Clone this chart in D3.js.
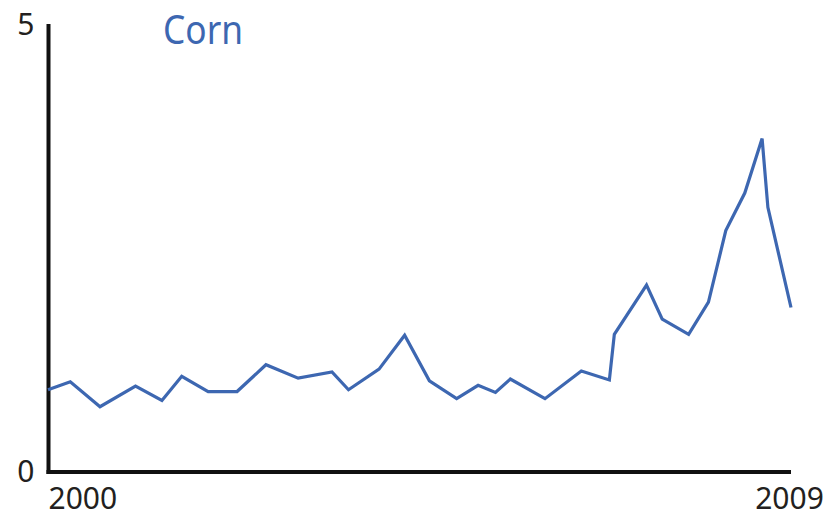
<!DOCTYPE html>
<html>
<head>
<meta charset="utf-8">
<script src="https://cdn.jsdelivr.net/npm/d3@7"></script>
<style>
	body { margin: 0; background: #fff; }
	text { font-family: "Noto Sans", sans-serif; }
</style>
</head>
<body>
<svg id="chart" width="839" height="517"></svg>
<script>

// time (fractional year) and price
var years = [2000.00, 2000.27, 2000.63, 2001.06, 2001.38, 2001.62, 2001.94, 2002.29, 2002.64, 2003.03,
	2003.44, 2003.64, 2004.01, 2004.32, 2004.62, 2004.95, 2005.21, 2005.42, 2005.60, 2006.02,
	2006.46, 2006.80, 2006.86, 2007.25, 2007.44, 2007.76, 2008.00, 2008.21, 2008.44, 2008.65,
	2008.72, 2009.00];
var prices = [0.92, 1.01, 0.73, 0.96, 0.80, 1.07, 0.90, 0.90, 1.20, 1.05,
	1.12, 0.92, 1.15, 1.53, 1.02, 0.82, 0.97, 0.89, 1.04, 0.82,
	1.13, 1.03, 1.54, 2.09, 1.71, 1.54, 1.90, 2.70, 3.12, 3.73,
	2.96, 1.84];
var yTicks = [0, 5];
var xTicks = [2000, 2009];
var title = "Corn";

var svg = d3.select("#chart");

var x = d3.scaleLinear().domain([2000, 2009]).range([48, 791]);
var y = d3.scaleLinear().domain([0, 5]).range([472, 25]);

var data = years.map(function(d, i)
{
	return { year: d, price: prices[i] };
});

// y axis
var yAxis = svg.append("g")
	.attr("transform", "translate(48.5,0)")
	.call(d3.axisLeft(y).tickValues(yTicks).tickSize(0).tickPadding(14).tickFormat(d3.format("d")));

yAxis.select(".domain")
	.attr("stroke", "#111")
	.attr("stroke-width", 4)
	.attr("d", "M0," + (y(0) + 2) + "V" + (y(5) - 1));

yAxis.selectAll("text")
	.attr("font-family", "Noto Sans")
	.attr("font-size", 30)
	.attr("fill", "#231f20");

// x axis
var xAxis = svg.append("g")
	.attr("transform", "translate(0,472)")
	.call(d3.axisBottom(x).tickValues(xTicks).tickSize(0).tickPadding(16).tickFormat(d3.format("d")));

xAxis.select(".domain")
	.attr("stroke", "#111")
	.attr("stroke-width", 4)
	.attr("d", "M" + (x(2000) - 1.5) + ",0H" + x(2009));

xAxis.selectAll("text")
	.attr("font-family", "Noto Sans")
	.attr("font-size", 30)
	.attr("fill", "#231f20")
	.attr("text-anchor", function(d)
	{
		return d == 2000 ? "start" : "middle";
	})
	.attr("dx", function(d)
	{
		return d == 2000 ? 0 : -2;
	});

// line
var line = d3.line()
	.x(function(d) { return x(d.year); })
	.y(function(d) { return y(d.price); });

svg.append("path")
	.datum(data)
	.attr("d", line)
	.attr("fill", "none")
	.attr("stroke", "#3d67b1")
	.attr("stroke-width", 3.2)
	.attr("stroke-linejoin", "miter");

// title
svg.append("text")
	.attr("x", 163)
	.attr("y", 43.5)
	.attr("font-size", 40)
	.attr("fill", "#3d67b1")
	.attr("textLength", 80)
	.attr("lengthAdjust", "spacingAndGlyphs")
	.text(title);

</script>
</body>
</html>
